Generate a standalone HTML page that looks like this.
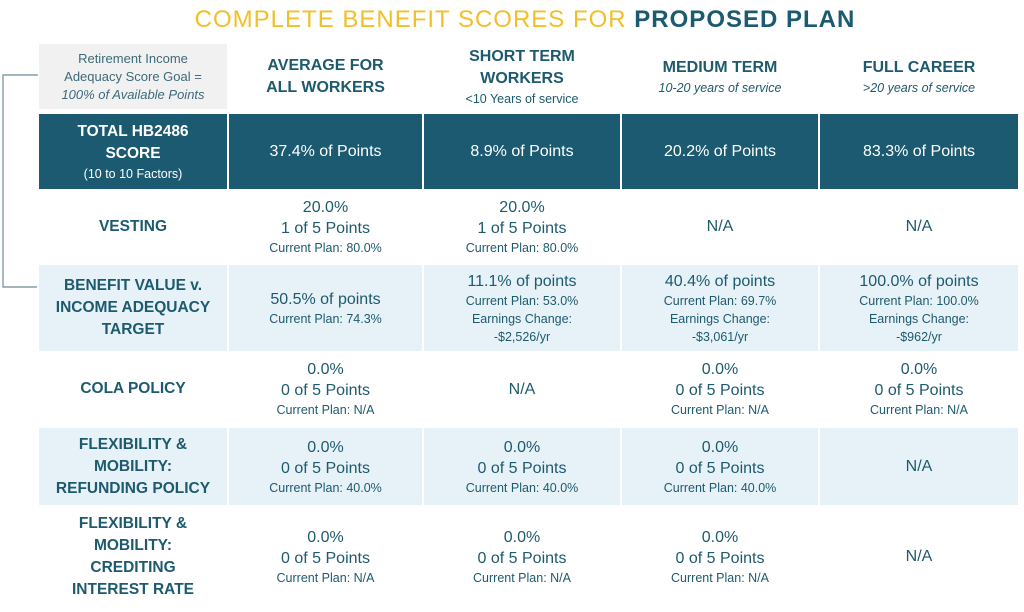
<!DOCTYPE html>
<html><head><meta charset="utf-8"><style>
body{margin:0;width:1024px;height:612px;background:#fff;position:relative;overflow:hidden;font-family:"Liberation Sans",sans-serif;color:#1d5a6e}
.c{position:absolute;display:flex;flex-direction:column;justify-content:center;align-items:center;text-align:center;box-sizing:border-box}
.b{font-size:16px;line-height:21px}
.s{font-size:12.5px;line-height:18px}
.h{font-weight:bold;font-size:16px;line-height:22px}
.lab{font-weight:bold;font-size:15.5px;line-height:22px}
.dark{background:#1b5a70;color:#fff}
.lt{background:#e6f2f7}
i{font-style:italic}
</style></head><body>
<div style="position:absolute;left:0;width:1050px;top:6px;text-align:center;font-size:24px;letter-spacing:1px;color:#f2bf28;font-weight:normal">COMPLETE BENEFIT SCORES FOR <b style="color:#1b5a70">PROPOSED PLAN</b></div>
<svg style="position:absolute;left:0;top:0" width="40" height="300"><path d="M38 75 H3 V287 H37" fill="none" stroke="#6a8c99" stroke-width="1.2"/></svg>
<div id="t"></div>
<script>
const cols=[[39,227],[229,422],[424,620],[622,818],[820,1018]];
const rows=[[44,109],[114,189],[190,263],[265,351],[352,426],[428,505],[507,598]];
const cells=[
 ['<span class="s" style="font-size:13px">Retirement Income<br>Adequacy Score Goal =<br><i>100% of Available Points</i></span>','<span class="h">AVERAGE FOR<br>ALL WORKERS</span>','<span class="h">SHORT TERM<br>WORKERS</span><span class="s">&lt;10 Years of service</span>','<span class="h">MEDIUM TERM</span><span class="s"><i>10-20 years of service</i></span>','<span class="h">FULL CAREER</span><span class="s"><i>&gt;20 years of service</i></span>'],
 ['<span class="lab">TOTAL HB2486<br>SCORE</span><span class="s">(10 to 10 Factors)</span>','<span class="b">37.4% of Points</span>','<span class="b">8.9% of Points</span>','<span class="b">20.2% of Points</span>','<span class="b">83.3% of Points</span>'],
 ['<span class="lab">VESTING</span>','<span class="b">20.0%<br>1 of 5 Points</span><span class="s">Current Plan: 80.0%</span>','<span class="b">20.0%<br>1 of 5 Points</span><span class="s">Current Plan: 80.0%</span>','<span class="b">N/A</span>','<span class="b">N/A</span>'],
 ['<span class="lab">BENEFIT VALUE v.<br>INCOME ADEQUACY<br>TARGET</span>','<span class="b">50.5% of points</span><span class="s">Current Plan: 74.3%</span>','<span class="b">11.1% of points</span><span class="s">Current Plan: 53.0%<br>Earnings Change:<br>-$2,526/yr</span>','<span class="b">40.4% of points</span><span class="s">Current Plan: 69.7%<br>Earnings Change:<br>-$3,061/yr</span>','<span class="b">100.0% of points</span><span class="s">Current Plan: 100.0%<br>Earnings Change:<br>-$962/yr</span>'],
 ['<span class="lab">COLA POLICY</span>','<span class="b">0.0%<br>0 of 5 Points</span><span class="s">Current Plan: N/A</span>','<span class="b">N/A</span>','<span class="b">0.0%<br>0 of 5 Points</span><span class="s">Current Plan: N/A</span>','<span class="b">0.0%<br>0 of 5 Points</span><span class="s">Current Plan: N/A</span>'],
 ['<span class="lab">FLEXIBILITY &amp;<br>MOBILITY:<br>REFUNDING POLICY</span>','<span class="b">0.0%<br>0 of 5 Points</span><span class="s">Current Plan: 40.0%</span>','<span class="b">0.0%<br>0 of 5 Points</span><span class="s">Current Plan: 40.0%</span>','<span class="b">0.0%<br>0 of 5 Points</span><span class="s">Current Plan: 40.0%</span>','<span class="b">N/A</span>'],
 ['<span class="lab">FLEXIBILITY &amp;<br>MOBILITY:<br>CREDITING<br>INTEREST RATE</span>','<span class="b">0.0%<br>0 of 5 Points</span><span class="s">Current Plan: N/A</span>','<span class="b">0.0%<br>0 of 5 Points</span><span class="s">Current Plan: N/A</span>','<span class="b">0.0%<br>0 of 5 Points</span><span class="s">Current Plan: N/A</span>','<span class="b">N/A</span>']
];
const names=['header','total','vesting','benefit-value','cola','refunding','crediting'];
const t=document.getElementById('t');
rows.forEach((r,ri)=>cols.forEach((c,ci)=>{
 const d=document.createElement('div');
 d.className='c'+(ri==1?' dark':'')+((ri==3||ri==5)?' lt':'');
 if(ri==0&&ci==0){d.style.background='#f1f1f1';d.style.color='#3d6a7a';}
 d.style.left=c[0]+'px';d.style.width=(c[1]-c[0])+'px';d.style.top=r[0]+'px';d.style.height=(r[1]-r[0])+'px';
 if(ri==6)d.style.paddingTop='8px';
 d.innerHTML=cells[ri][ci];
 
 
 t.appendChild(d);
}));
</script>
</body></html>
